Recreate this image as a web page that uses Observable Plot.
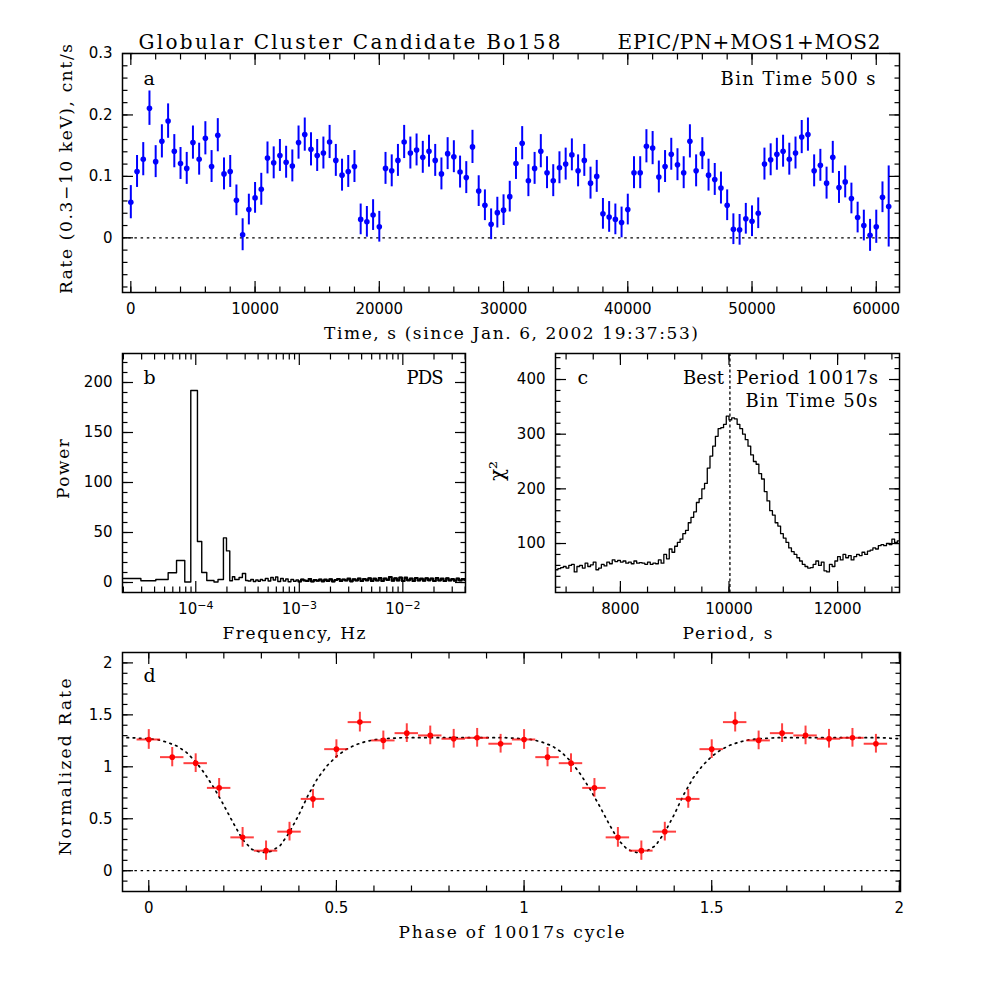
<!DOCTYPE html>
<html><head><meta charset="utf-8">
<script src="https://cdn.jsdelivr.net/npm/d3@7"></script>
<script src="https://cdn.jsdelivr.net/npm/@observablehq/plot@0.6"></script>
<style>
body{margin:0;background:#fff;}
#root{position:relative;width:981px;height:981px;overflow:hidden;background:#fff;}
.panel{position:absolute;}
.panel svg{overflow:visible;}
</style></head><body><div id="root"></div>
<script>
// ---------------- DATA ----------------
// Panel a: light curve, 500 s bins starting at t = 0
const lcBinWidth = 500;
const lcRate = [
 0.058,0.108,0.128,0.211,0.124,0.157,0.190,0.141,0.121,0.113,
 0.155,0.128,0.162,0.116,0.167,0.104,0.108,0.061,0.005,0.046,
 0.065,0.079,0.130,0.122,0.134,0.123,0.117,0.155,0.168,0.144,
 0.134,0.138,0.156,0.126,0.102,0.108,0.116,0.030,0.026,0.037,
 0.018,0.113,0.109,0.126,0.156,0.138,0.143,0.131,0.141,0.126,
 0.104,0.137,0.132,0.107,0.098,0.148,0.076,0.053,0.022,0.041,
 0.045,0.067,0.121,0.154,0.093,0.113,0.141,0.106,0.093,0.114,
 0.120,0.135,0.109,0.126,0.089,0.100,0.039,0.034,0.030,0.025,
 0.046,0.106,0.106,0.149,0.146,0.099,0.116,0.136,0.119,0.106,
 0.157,0.109,0.137,0.102,0.095,0.081,0.053,0.014,0.013,0.031,
 0.027,0.040,0.120,0.127,0.136,0.141,0.128,0.138,0.164,0.168,
 0.109,0.118,0.089,0.131,0.082,0.091,0.064,0.033,0.020,0.004,
 0.018,0.066,0.051];
const lcErr = [
 0.027,0.026,0.027,0.028,0.026,0.027,0.028,0.027,0.026,0.026,
 0.027,0.026,0.027,0.026,0.027,0.026,0.026,0.025,0.026,0.025,
 0.025,0.026,0.026,0.026,0.026,0.026,0.026,0.027,0.027,0.027,
 0.026,0.026,0.027,0.026,0.026,0.026,0.026,0.025,0.025,0.025,
 0.025,0.026,0.026,0.026,0.027,0.026,0.026,0.026,0.026,0.026,
 0.026,0.026,0.026,0.026,0.026,0.027,0.025,0.025,0.025,0.025,
 0.025,0.025,0.026,0.027,0.026,0.026,0.027,0.026,0.026,0.026,
 0.026,0.026,0.026,0.026,0.026,0.026,0.025,0.025,0.025,0.025,
 0.025,0.026,0.026,0.027,0.027,0.026,0.026,0.026,0.026,0.026,
 0.027,0.026,0.026,0.026,0.026,0.026,0.025,0.025,0.025,0.025,
 0.025,0.025,0.026,0.026,0.026,0.026,0.026,0.026,0.027,0.027,
 0.026,0.026,0.026,0.026,0.026,0.026,0.025,0.025,0.025,0.026,
 0.027,0.025,0.066];

// Panel b: power density spectrum (left bin edges in Hz; last entry is right edge)
const pdsFreq = [
 1.96e-5,2.95e-5,4.11e-5,5.41e-5,6.52e-5,7.83e-5,8.95e-5,1.038e-4,1.142e-4,1.277e-4,
 1.50e-4,1.64e-4,1.85e-4,1.98e-4,2.13e-4,2.26e-4,2.38e-4,2.62e-4,2.82e-4,3.03e-4,
 3.2e-4,3.4e-4,3.6e-4,3.8e-4,4.0e-4,4.2e-4,4.4e-4,4.7e-4,5.0e-4,5.3e-4,
 5.6e-4,5.9e-4,6.2e-4,6.6e-4,7.0e-4,7.4e-4,7.8e-4,8.3e-4,8.8e-4,9.3e-4,
 9.8e-4,1.04e-3,1.1e-3,1.16e-3,1.23e-3,1.3e-3,1.38e-3,1.46e-3,1.55e-3,1.64e-3,
 1.74e-3,1.84e-3,1.95e-3,2.07e-3,2.19e-3,2.32e-3,2.46e-3,2.6e-3,2.76e-3,2.92e-3,
 3.1e-3,3.28e-3,3.48e-3,3.68e-3,3.9e-3,4.13e-3,4.38e-3,4.64e-3,4.92e-3,5.2e-3,
 5.5e-3,5.85e-3,6.2e-3,6.55e-3,6.95e-3,7.35e-3,7.8e-3,8.25e-3,8.75e-3,9.25e-3,
 9.8e-3,1.04e-2,1.1e-2,1.17e-2,1.24e-2,1.31e-2,1.39e-2,1.47e-2,1.56e-2,1.65e-2,
 1.75e-2,1.85e-2,1.96e-2,2.08e-2,2.2e-2,2.33e-2,2.47e-2,2.62e-2,2.77e-2,2.94e-2,
 3.11e-2,3.3e-2,3.49e-2,3.7e-2,3.92e-2,4.03e-2];
const pdsPower = [
 4,1.7,3,9.7,22,0.5,192,41,10,2,
 0.5,3,44.6,31.6,1.7,5.7,3,5,9,2,
 1.5,3,1,2.5,1.2,3,2,4,1.5,5,
 2.5,5.5,1,4,1.5,3.5,0.8,3,1.2,2.5,
 1,3,2,1.5,3.5,1,2.5,1.8,3,1.2,
 2.8,1.5,3.2,1,2.5,3.5,1.5,3,2,3.8,
 1.2,3.2,2,4,1.5,3.5,2.2,4.2,1.5,3.8,
 2,4.5,1.5,4,2.5,5.5,1.8,4.2,2,5,
 1.5,4.8,2.2,4,1.5,4.5,2,3.8,1.8,4.2,
 2.2,4,1.5,4.5,2,3.8,1.5,4.2,2,3.5,
 1.8,4,2,3.5,2.5,2.5];

// Panel c: chi^2 periodogram, trial periods from 6800 s in 50 s steps
const chiStart = 6800, chiStep = 50;
const chi2 = [
 52,54,56,58,55,60,62,48,58,60,
 55,64,58,61,66,52,55,62,59,66,
 63,70,67,69,66,68,64,66,63,68,
 64,65,64,62,66,62,64,63,70,64,
 80,72,90,84,95,102,108,118,124,138,
 148,158,175,182,200,210,238,260,278,296,
 310,312,318,333,326,330,328,318,310,300,
 290,278,262,250,245,228,218,195,178,160,
 152,138,132,118,110,102,92,85,80,74,
 68,62,58,55,56,62,68,60,66,50,
 48,62,58,68,76,70,80,74,78,70,
 76,80,78,84,80,86,88,92,90,96,
 98,96,100,98,108,102,105,115];
const bestPeriod = 10017;

// Panel d: folded light curve (16 phase bins), shown for two cycles
const foldPhase = [0,0.0625,0.125,0.1875,0.25,0.3125,0.375,0.4375,0.5,0.5625,0.625,0.6875,0.75,0.8125,0.875,0.9375];
const foldRate  = [1.263,1.093,1.035,0.797,0.321,0.193,0.376,0.691,1.170,1.430,1.254,1.324,1.302,1.270,1.279,1.222];
const foldErr   = [0.095,0.093,0.09,0.09,0.095,0.093,0.09,0.09,0.09,0.095,0.09,0.09,0.09,0.09,0.09,0.09];
const foldHalfBin = 0.03125;
const modelPhase = [0,0.025,0.05,0.075,0.1,0.125,0.15,0.175,0.2,0.225,0.25,0.275,0.3,0.325,0.35,0.375,0.4,0.425,0.45,0.475,
                    0.5,0.525,0.55,0.575,0.6,0.625,0.65,0.675,0.7,0.725,0.75,0.775,0.8,0.825,0.85,0.875,0.9,0.925,0.95,0.975];
const modelRate  = [1.27,1.26,1.235,1.2,1.14,1.05,0.93,0.79,0.63,0.46,0.30,0.205,0.175,0.185,0.24,0.37,0.54,0.73,0.89,1.01,
                    1.10,1.165,1.21,1.24,1.26,1.27,1.275,1.28,1.28,1.28,1.28,1.28,1.28,1.28,1.28,1.28,1.28,1.28,1.28,1.275];
const cycles = [-1, 0, 1];

// Tick labels
const aXTicks = [0,10000,20000,30000,40000,50000,60000];
const aYTicks = [0,0.1,0.2,0.3];
const bXTicks = [1e-4,1e-3,1e-2];
const bXExponents = ["\u22124","\u22123","\u22122"];
const bXMinor = [2e-5,3e-5,4e-5,5e-5,6e-5,7e-5,8e-5,9e-5,2e-4,3e-4,4e-4,5e-4,6e-4,7e-4,8e-4,9e-4,
                 2e-3,3e-3,4e-3,5e-3,6e-3,7e-3,8e-3,9e-3,2e-2,3e-2,4e-2];
const bYTicks = [0,50,100,150,200];
const cXTicks = [8000,10000,12000];
const cYTicks = [100,200,300,400];
const dXTicks = [0,0.5,1,1.5,2];
const dYTicks = [0,0.5,1,1.5,2];

// ---------------- DRAWING ----------------
const SERIF = "'DejaVu Serif', serif";
const SANS = "'DejaVu Sans', sans-serif";
const STYLE = {background: "transparent", color: "black", fontFamily: SANS, fontSize: "15px", overflow: "visible"};
const root = document.getElementById("root");

// rendered text widths (px) matched to the wide plotting font of the original
const textWidths = new Map([
  ["Globular Cluster Candidate Bo158", 422], ["EPIC/PN+MOS1+MOS2", 263], ["Bin Time 500 s", 155],
  ["Time, s (since Jan. 6, 2002 19:37:53)", 374], ["PDS", 37], ["Frequency, Hz", 143],
  ["Best", 41], ["Period " + bestPeriod + "s", 142], ["Bin Time 50s", 132], ["Period, s", 90],
  ["Phase of " + bestPeriod + "s cycle", 226], ["Normalized Rate", 177],
  ["Rate (0.3\u221210 keV), cnt/s", 250], ["Power", 60]
]);

function place(svg, left, top, w) {
  svg.querySelectorAll("text").forEach(t => {
    const s = t.textContent;
    const tl = textWidths.get(s);
    if (tl) { t.setAttribute("textLength", tl); t.setAttribute("lengthAdjust", "spacing"); }
    if (s.includes("^")) {
      const [base, exp] = s.split("^");
      t.textContent = base;
      const ts = document.createElementNS("http://www.w3.org/2000/svg", "tspan");
      ts.setAttribute("dy", "-0.45em"); ts.setAttribute("font-size", "11");
      ts.textContent = exp;
      t.appendChild(ts);
    }
  });
  const div = document.createElement("div");
  div.className = "panel";
  div.style.left = left + "px"; div.style.top = top + "px"; div.style.width = w + "px";
  div.appendChild(svg);
  root.appendChild(div);
}

function boxAxes({xMaj, xMin, yMaj, yMin, xFmt, yFmt}) {
  const tk = (f, ticks, anchor, size) => f(ticks, {anchor, tickSize: -size, fill: "none", label: null, strokeWidth: 1.2});
  return [
    tk(Plot.axisX, xMaj, "bottom", 11), tk(Plot.axisX, xMaj, "top", 11),
    tk(Plot.axisX, xMin, "bottom", 5.5), tk(Plot.axisX, xMin, "top", 5.5),
    tk(Plot.axisY, yMaj, "left", 11), tk(Plot.axisY, yMaj, "right", 11),
    tk(Plot.axisY, yMin, "left", 5.5), tk(Plot.axisY, yMin, "right", 5.5),
    Plot.axisX(xMaj, {anchor: "bottom", tickSize: 0, tickPadding: 11, tickFormat: xFmt, label: null, fontSize: 15, fontFamily: SANS}),
    Plot.axisY(yMaj, {anchor: "left", tickSize: 0, tickPadding: 10, tickFormat: yFmt, label: null, fontSize: 15, fontFamily: SANS})
  ];
}
const txt = (s, o) => Plot.text([s], {text: d => d, fontFamily: SERIF, fontSize: 18, lineAnchor: "bottom", ...o});
const xLab = (s) => txt(s, {frameAnchor: "bottom", dy: 46, fontSize: 17});
const yLab = (s, dx = -57, dy = 0, fs = 17) => txt(s, {frameAnchor: "left", rotate: -90, dx, dy, lineAnchor: "middle", textAnchor: "middle", fontSize: fs});

// Panel a
const lc = lcRate.map((r, i) => ({t: i * lcBinWidth, r, e: lcErr[i]}));
place(Plot.plot({
  width: 981, height: 340, marginTop: 53, marginBottom: 48, marginLeft: 122, marginRight: 82,
  x: {domain: [-670, 61870], axis: null},
  y: {domain: [-0.089, 0.3], axis: null},
  style: STYLE,
  marks: [
    Plot.ruleY([0], {strokeDasharray: "2.5,3.7", strokeWidth: 1.2}),
    Plot.ruleX(lc, {x: "t", y1: d => d.r - d.e, y2: d => d.r + d.e, stroke: "blue", strokeWidth: 2}),
    Plot.dot(lc, {x: "t", y: "r", r: 2.8, fill: "blue"}),
    ...boxAxes({xMaj: aXTicks, xMin: d3.range(0, 60001, 2000), yMaj: aYTicks, yMin: d3.range(-0.08, 0.295, 0.02),
      xFmt: d => String(d), yFmt: d => d === 0 ? "0" : d.toFixed(1)}),
    Plot.frame({strokeWidth: 1.5}),
    txt("Globular Cluster Candidate Bo158", {frameAnchor: "top-left", dx: 16, dy: -5, textAnchor: "start", fontSize: 20}),
    txt("EPIC/PN+MOS1+MOS2", {frameAnchor: "top-right", dx: -19, dy: -5, textAnchor: "end", fontSize: 20}),
    txt("a", {frameAnchor: "top-left", dx: 21, dy: 31, textAnchor: "start", fontSize: 19}),
    txt("Bin Time 500 s", {frameAnchor: "top-right", dx: -24, dy: 31, textAnchor: "end"}),
    xLab("Time, s (since Jan. 6, 2002 19:37:53)"),
    yLab("Rate (0.3\u221210 keV), cnt/s", -56, -4)
  ]
}), 0, 0, 981);

// Panel b
const pds = pdsFreq.map((f, i) => ({f, p: pdsPower[i]}));
place(Plot.plot({
  width: 490, height: 300, marginTop: 13, marginBottom: 48, marginLeft: 122, marginRight: 25,
  x: {type: "log", domain: [1.96e-5, 4.03e-2], axis: null},
  y: {domain: [-10, 229], axis: null},
  style: STYLE,
  marks: [
    Plot.line(pds, {x: "f", y: "p", curve: "step-after", strokeWidth: 1.4, clip: true}),
    Plot.line(pds, {filter: d => d.f >= 9.8e-4, x: "f", y: "p", curve: "step-after", strokeWidth: 2.2, clip: true}),
    ...boxAxes({xMaj: bXTicks, xMin: bXMinor, yMaj: bYTicks, yMin: d3.range(0, 221, 10),
      xFmt: d => "10^" + bXExponents[bXTicks.indexOf(d)], yFmt: d => String(d)}),
    Plot.frame({strokeWidth: 1.5}),
    txt("b", {frameAnchor: "top-left", dx: 21, dy: 30, textAnchor: "start", fontSize: 19}),
    txt("PDS", {frameAnchor: "top-right", dx: -22, dy: 30, textAnchor: "end"}),
    xLab("Frequency, Hz"),
    yLab("Power", -59, -4)
  ]
}), 0, 340, 490);

// Panel c
const chi = chi2.map((v, i) => ({p: chiStart + i * chiStep, v}));
place(Plot.plot({
  width: 491, height: 300, marginTop: 13, marginBottom: 48, marginLeft: 65, marginRight: 82,
  x: {domain: [6805, 13140], axis: null},
  y: {domain: [10.4, 447.6], axis: null},
  style: STYLE,
  marks: [
    Plot.ruleX([bestPeriod], {strokeDasharray: "3,2.5", strokeWidth: 1.3}),
    Plot.line(chi, {x: "p", y: "v", curve: "step-after", strokeWidth: 1.3, clip: true}),
    ...boxAxes({xMaj: cXTicks, xMin: d3.range(7000, 13001, 500), yMaj: cYTicks, yMin: d3.range(20, 441, 20),
      xFmt: d => String(d), yFmt: d => String(d)}),
    Plot.frame({strokeWidth: 1.5}),
    txt("c", {frameAnchor: "top-left", dx: 22, dy: 30, textAnchor: "start", fontSize: 19}),
    txt("Best", {x: () => bestPeriod, frameAnchor: "top", dx: -6, dy: 30, textAnchor: "end"}),
    txt("Period " + bestPeriod + "s", {x: () => bestPeriod, frameAnchor: "top", dx: 6, dy: 30, textAnchor: "start"}),
    txt("Bin Time 50s", {frameAnchor: "top-right", dx: -22, dy: 53.7, textAnchor: "end"}),
    xLab("Period, s"),
    yLab("\u03C7\u00B2", -58, -2, 20)
  ]
}), 490, 340, 491);

// Panel d
const fold = [];
for (const k of [0, 1]) foldPhase.forEach((p, i) => fold.push({p: p + k, r: foldRate[i], e: foldErr[i]}));
const model = [];
for (const k of cycles) modelPhase.forEach((p, i) => model.push({p: p + k, v: modelRate[i]}));
model.push({p: 2, v: modelRate[0]});
place(Plot.plot({
  width: 981, height: 341, marginTop: 12, marginBottom: 90, marginLeft: 122, marginRight: 81,
  x: {domain: [-0.07, 2.003], axis: null},
  y: {domain: [-0.2, 2.1], axis: null},
  style: STYLE,
  marks: [
    Plot.ruleY([0], {strokeDasharray: "2.5,3.7", strokeWidth: 1.2}),
    Plot.line(model, {x: "p", y: "v", strokeDasharray: "1.6,4.6", strokeWidth: 1.7, clip: true}),
    Plot.ruleY(fold, {y: "r", x1: d => d.p - foldHalfBin, x2: d => d.p + foldHalfBin, stroke: "red", strokeOpacity: 0.75, strokeWidth: 2}),
    Plot.ruleX(fold, {x: "p", y1: d => d.r - d.e, y2: d => d.r + d.e, stroke: "red", strokeOpacity: 0.75, strokeWidth: 2}),
    Plot.dot(fold, {x: "p", y: "r", r: 2.8, fill: "red"}),
    ...boxAxes({xMaj: dXTicks, xMin: d3.range(0, 2.001, 0.1), yMaj: dYTicks, yMin: d3.range(-0.1, 2.001, 0.1),
      xFmt: d => String(d), yFmt: d => String(d)}),
    Plot.frame({strokeWidth: 1.5}),
    txt("d", {frameAnchor: "top-left", dx: 21, dy: 29.7, textAnchor: "start", fontSize: 19}),
    xLab("Phase of " + bestPeriod + "s cycle"),
    yLab("Normalized Rate", -57, -5)
  ]
}), 0, 640, 981);
</script></body></html>
